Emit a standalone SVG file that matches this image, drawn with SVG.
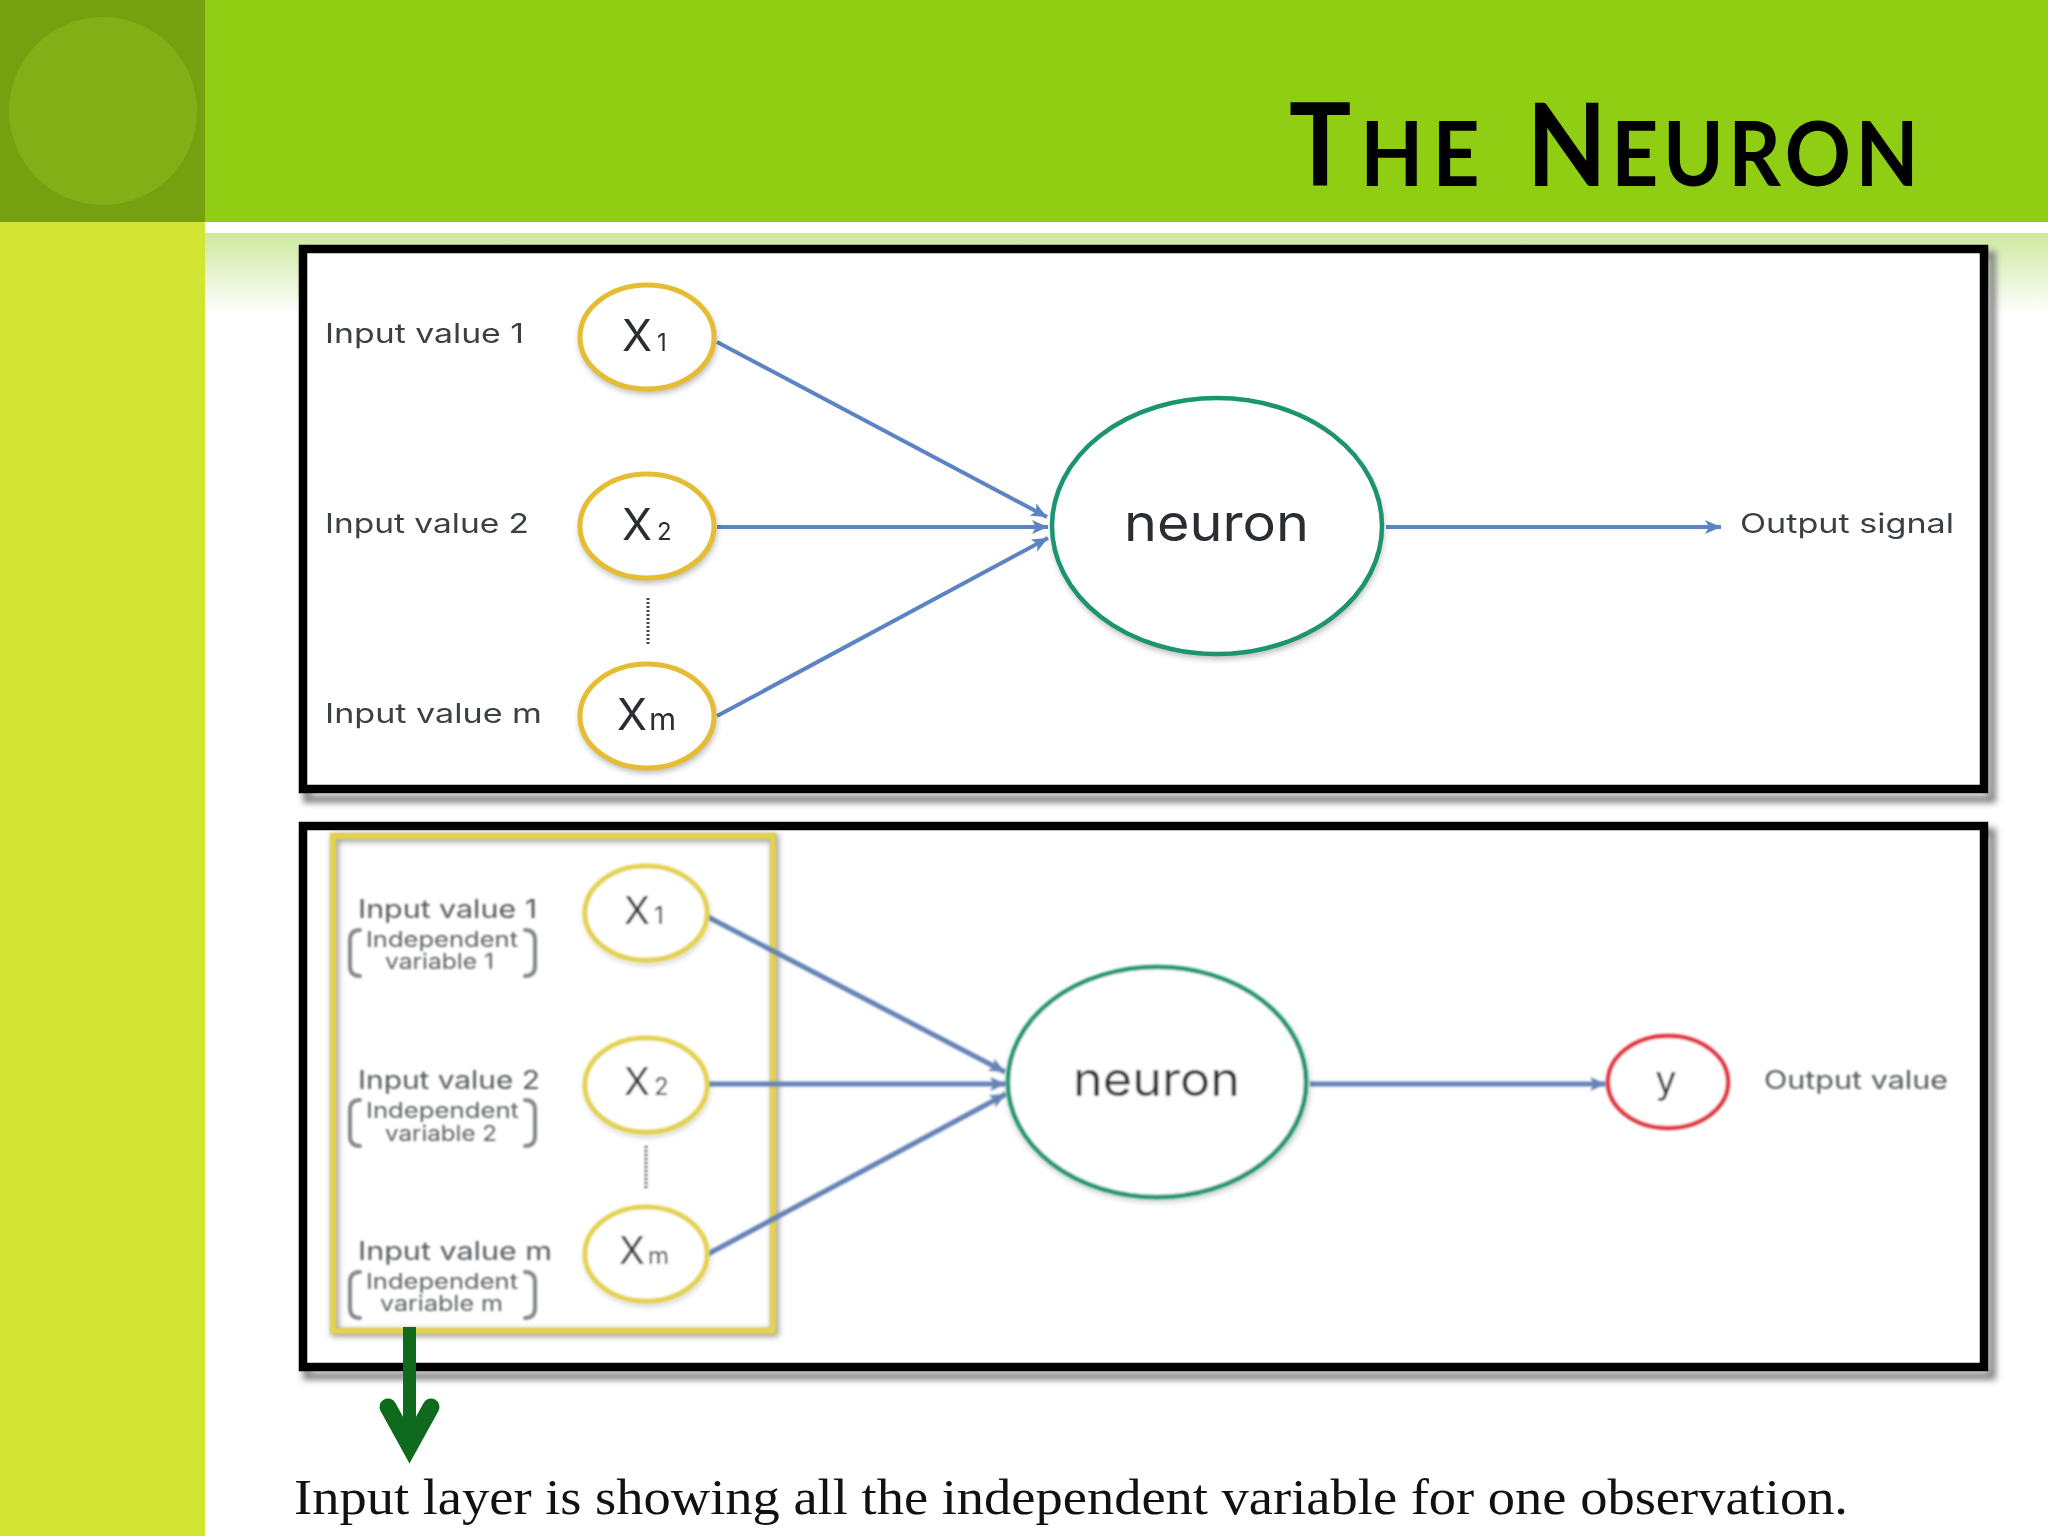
<svg xmlns="http://www.w3.org/2000/svg" width="2048" height="1536" viewBox="0 0 2048 1536">
<style>
text{font-family:"Inter","Liberation Sans",sans-serif;fill:#3a3f44}
.lab{font-size:27px}
.lab2{font-size:25px;fill:#55595d}
.sub{font-size:21px;fill:#5c6064}
.xs{font-size:44px;fill:#2c2f33}
.xs2{font-size:38px;fill:#333}
.ss{font-size:24px}
.sm{font-size:31px}
.neu{font-size:52px;fill:#2c2f33}
.in1{fill:#fff;stroke:#E6BC33;stroke-width:5}
.in2{fill:#fff;stroke:#E4D24E;stroke-width:5}
.cn1{fill:none;stroke:#5B84C2;stroke-width:4}
.cn2{fill:none;stroke:#6483B5;stroke-width:5}
.br{fill:none;stroke:#85888a;stroke-width:4;stroke-linecap:round}
.shd{fill:#000;opacity:.28}
</style>
<defs>
<linearGradient id="fade" x1="0" y1="0" x2="0" y2="1"><stop offset="0" stop-color="#CDE89E"/><stop offset="1" stop-color="#fff"/></linearGradient>
<filter id="sh" x="-20%" y="-20%" width="140%" height="140%"><feGaussianBlur stdDeviation="3"/></filter>
<filter id="soft" x="-5%" y="-5%" width="110%" height="110%"><feGaussianBlur stdDeviation="1"/></filter>
<filter id="soft1" x="-5%" y="-5%" width="110%" height="110%"><feGaussianBlur stdDeviation="0.5"/></filter>
<marker id="a1" markerUnits="userSpaceOnUse" markerWidth="18" markerHeight="14" refX="16" refY="7" orient="auto"><path d="M0 0L16 7L0 14L4 7Z" fill="#5B84C2"/></marker>
<marker id="a2" markerUnits="userSpaceOnUse" markerWidth="18" markerHeight="14" refX="16" refY="7" orient="auto"><path d="M0 0L16 7L0 14L4 7Z" fill="#6483B5"/></marker>
</defs>
<g id="background">
<rect width="2048" height="1536" fill="#fff"/>
<rect x="205" y="233" width="1843" height="80" fill="url(#fade)"/>
<rect x="205" y="0" width="1843" height="222" fill="#90CE14"/>
<rect x="0" y="222" width="205" height="1314" fill="#D2E532"/>
<rect x="0" y="0" width="205" height="222" fill="#76A00F"/>
<circle cx="103" cy="111" r="94" fill="#84AE16"/>
</g>
<g id="title"><text transform="translate(1289 186) scale(0.91 1)" font-weight="700" style="font-family:'Lato','Liberation Sans',sans-serif;fill:#000;font-size:90px"><tspan letter-spacing="10"><tspan font-size="114">T</tspan>HE </tspan><tspan letter-spacing="5"><tspan font-size="114" dx="10">N</tspan>EURON</tspan></text></g>
<g id="frame1">
<rect x="307" y="255" width="1685" height="544" fill="none" stroke="#888" stroke-width="8" filter="url(#sh)"/>
<rect x="303" y="249" width="1681" height="540" fill="#fff" stroke="#000" stroke-width="8.500"/>
</g>
<g id="frame2">
<rect x="307" y="832" width="1685" height="544" fill="none" stroke="#888" stroke-width="8" filter="url(#sh)"/>
<rect x="303" y="826" width="1681" height="541" fill="#fff" stroke="#000" stroke-width="8.500"/>
</g>
<g id="input-layer">
<rect x="335" y="838" width="440" height="495" fill="none" stroke="#999" stroke-width="7" filter="url(#sh)"/>
<rect x="333" y="836" width="440" height="495" fill="none" stroke="#E4D24E" stroke-width="6" filter="url(#soft)"/>
</g>
<g id="connectors">
<g filter="url(#soft1)">
<line class="cn1" x1="717" y1="342" x2="1047" y2="517" marker-end="url(#a1)"/>
<line class="cn1" x1="717" y1="527" x2="1048" y2="527" marker-end="url(#a1)"/>
<line class="cn1" x1="717" y1="716" x2="1048" y2="538" marker-end="url(#a1)"/>
<line class="cn1" x1="1386" y1="527" x2="1721" y2="527" marker-end="url(#a1)"/>
<line x1="648" y1="598" x2="648" y2="646" stroke="#444" stroke-width="3" stroke-dasharray="2 2"/>
</g>
<g filter="url(#soft)">
<line class="cn2" x1="708" y1="917" x2="1005" y2="1072" marker-end="url(#a2)"/>
<line class="cn2" x1="708" y1="1084" x2="1006" y2="1084" marker-end="url(#a2)"/>
<line class="cn2" x1="708" y1="1254" x2="1006" y2="1094" marker-end="url(#a2)"/>
<line class="cn2" x1="1310" y1="1084" x2="1606" y2="1084" marker-end="url(#a2)"/>
<line x1="646" y1="1146" x2="646" y2="1190" stroke="#555" stroke-width="3" stroke-dasharray="2 2"/>
</g>
</g>
<g id="top-nodes" filter="url(#soft1)">
<g id="t-label1"><text class="lab" x="325" y="343" textLength="199" lengthAdjust="spacingAndGlyphs">Input value 1</text></g>
<g id="t-label2"><text class="lab" x="325" y="533" textLength="204" lengthAdjust="spacingAndGlyphs">Input value 2</text></g>
<g id="t-labelm"><text class="lab" x="325" y="723" textLength="217" lengthAdjust="spacingAndGlyphs">Input value m</text></g>
<g id="t-x1"><ellipse class="shd" cx="648" cy="341" rx="69" ry="53" filter="url(#sh)"/><ellipse class="in1" cx="647" cy="337" rx="67" ry="52"/><text class="xs" x="622" y="351">X<tspan class="ss" dx="5">1</tspan></text></g>
<g id="t-x2"><ellipse class="shd" cx="648" cy="530" rx="69" ry="53" filter="url(#sh)"/><ellipse class="in1" cx="647" cy="526" rx="67" ry="52"/><text class="xs" x="622" y="540">X<tspan class="ss" dx="5">2</tspan></text></g>
<g id="t-xm"><ellipse class="shd" cx="648" cy="720" rx="69" ry="53" filter="url(#sh)"/><ellipse class="in1" cx="647" cy="716" rx="67" ry="52"/><text class="xs" x="617" y="730">X<tspan class="sm" dx="2">m</tspan></text></g>
<g id="t-neuron"><ellipse class="shd" cx="1218" cy="530" rx="166" ry="129" filter="url(#sh)"/><ellipse cx="1217" cy="526" rx="165" ry="128" fill="#fff" stroke="#1E9470" stroke-width="4.500"/><text class="neu" x="1124" y="541" textLength="185" lengthAdjust="spacingAndGlyphs">neuron</text></g>
<g id="t-output"><text class="lab" x="1740" y="533" textLength="214" lengthAdjust="spacingAndGlyphs">Output signal</text></g>
</g>
<g id="bottom-nodes" filter="url(#soft)">
<g id="b-label1"><text class="lab2" x="358" y="918" textLength="179" lengthAdjust="spacingAndGlyphs">Input value 1</text><text class="sub" x="366" y="947" textLength="152" lengthAdjust="spacingAndGlyphs">Independent</text><text class="sub" x="385" y="969" textLength="109" lengthAdjust="spacingAndGlyphs">variable 1</text><path class="br" d="M360 930Q350 930 350 940V966Q350 976 360 976M525 930Q535 930 535 940V966Q535 976 525 976"/></g>
<g id="b-label2"><text class="lab2" x="358" y="1089" textLength="182" lengthAdjust="spacingAndGlyphs">Input value 2</text><text class="sub" x="366" y="1118" textLength="153" lengthAdjust="spacingAndGlyphs">Independent</text><text class="sub" x="385" y="1141" textLength="112" lengthAdjust="spacingAndGlyphs">variable 2</text><path class="br" d="M360 1100Q350 1100 350 1110V1136Q350 1146 360 1146M525 1100Q535 1100 535 1110V1136Q535 1146 525 1146"/></g>
<g id="b-labelm"><text class="lab2" x="358" y="1260" textLength="194" lengthAdjust="spacingAndGlyphs">Input value m</text><text class="sub" x="366" y="1289" textLength="152" lengthAdjust="spacingAndGlyphs">Independent</text><text class="sub" x="380" y="1311" textLength="123" lengthAdjust="spacingAndGlyphs">variable m</text><path class="br" d="M360 1272Q350 1272 350 1282V1308Q350 1318 360 1318M525 1272Q535 1272 535 1282V1308Q535 1318 525 1318"/></g>
<g id="b-x1"><ellipse class="shd" cx="647" cy="916" rx="62" ry="48" filter="url(#sh)"/><ellipse class="in2" cx="646" cy="913" rx="61" ry="47"/><text class="xs2" x="624" y="924">X<tspan class="ss" dx="4">1</tspan></text></g>
<g id="b-x2"><ellipse class="shd" cx="647" cy="1088" rx="62" ry="48" filter="url(#sh)"/><ellipse class="in2" cx="646" cy="1085" rx="61" ry="47"/><text class="xs2" x="624" y="1095">X<tspan class="ss" dx="4">2</tspan></text></g>
<g id="b-xm"><ellipse class="shd" cx="647" cy="1257" rx="62" ry="48" filter="url(#sh)"/><ellipse class="in2" cx="646" cy="1254" rx="61" ry="47"/><text class="xs2" x="619" y="1264">X<tspan class="ss" dx="3">m</tspan></text></g>
<g id="b-neuron"><ellipse class="shd" cx="1158" cy="1085" rx="151" ry="116" filter="url(#sh)"/><ellipse cx="1157" cy="1082" rx="149" ry="115" fill="#fff" stroke="#1E9470" stroke-width="4.500"/><text class="neu" x="1073" y="1096" textLength="167" lengthAdjust="spacingAndGlyphs" style="font-size:47px">neuron</text></g>
<g id="b-y"><ellipse cx="1668" cy="1082" rx="60" ry="46" fill="#fff" stroke="#E0363F" stroke-width="4.500"/><text class="xs2" x="1666" y="1093" text-anchor="middle">y</text></g>
<g id="b-output"><text class="lab2" x="1764" y="1089" textLength="184" lengthAdjust="spacingAndGlyphs">Output value</text></g>
</g>
<g id="green-arrow">
<path d="M409.500 1327V1445" stroke="#0F6A1E" stroke-width="13" fill="none"/>
<path d="M388 1407L409.500 1446L431 1407" stroke="#0F6A1E" stroke-width="17" fill="none" stroke-linecap="round" stroke-linejoin="miter" stroke-miterlimit="8"/>
</g>
<g id="caption"><text x="294" y="1514" textLength="1554" lengthAdjust="spacingAndGlyphs" style="font-family:'Liberation Serif',serif;font-size:50px;fill:#111">Input layer is showing all the independent variable for one observation.</text></g>
</svg>
